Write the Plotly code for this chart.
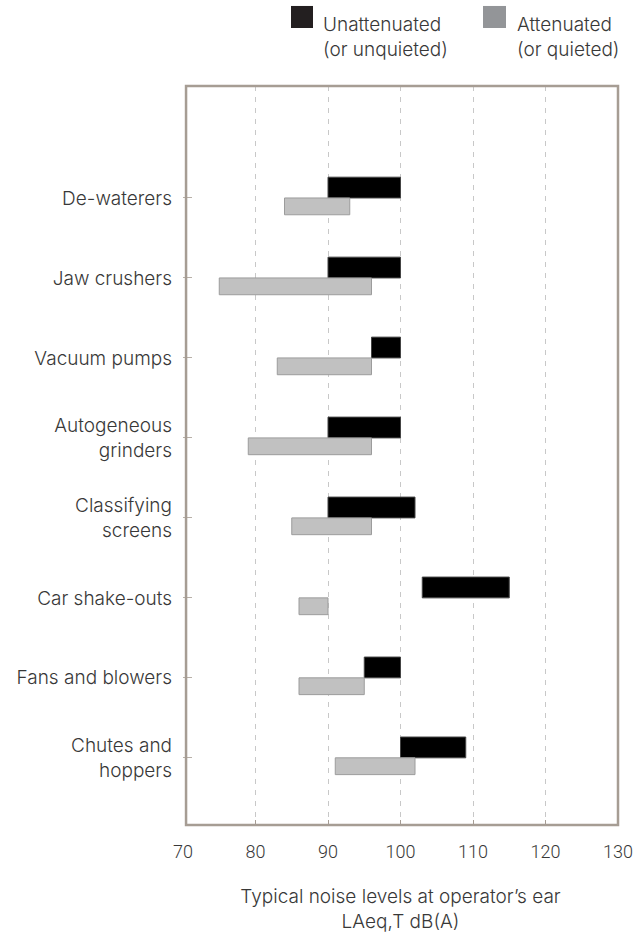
import plotly.graph_objects as go

categories = ["De-waterers", "Jaw crushers", "Vacuum pumps", "Autogeneous grinders",
              "Classifying screens", "Car shake-outs", "Fans and blowers", "Chutes and hoppers"]
tick_labels = ["De-waterers", "Jaw crushers", "Vacuum pumps", "Autogeneous<br>grinders",
               "Classifying<br>screens", "Car shake-outs", "Fans and blowers", "Chutes and<br>hoppers"]

unatt_low = [90, 90, 96, 90, 90, 103, 95, 100]
unatt_high = [100, 100, 100, 100, 102, 115, 100, 109]
att_low = [84, 75, 83, 79, 85, 86, 86, 91]
att_high = [93, 96, 96, 96, 96, 90, 95, 102]

x_ticks = [70, 80, 90, 100, 110, 120, 130]

FONT = "Inter"
FS = 19
TXT = "#383838"
FRAME = "#a69d94"

fig = go.Figure()
fig.add_trace(go.Bar(
    y=categories, x=[h - l for l, h in zip(unatt_low, unatt_high)], base=unatt_low,
    orientation="h", width=0.26, offset=-0.26, name="Unattenuated (or unquieted)",
    marker=dict(color="#000000", line=dict(color="#444444", width=1)), showlegend=False))
fig.add_trace(go.Bar(
    y=categories, x=[h - l for l, h in zip(att_low, att_high)], base=att_low,
    orientation="h", width=0.21, offset=0.0, name="Attenuated (or quieted)",
    marker=dict(color="#c1c1c1", line=dict(color="#9c9c9c", width=1)), showlegend=False))

# frame
fig.add_shape(type="rect", xref="paper", yref="paper", x0=0.007, x1=1.0, y0=0, y1=1,
              line=dict(color=FRAME, width=2.5), layer="above")

# manual legend
fig.add_shape(type="rect", xref="paper", yref="paper", x0=0.2483, x1=0.2989, y0=1.0785, y1=1.1083,
              fillcolor="#231f20", line=dict(width=0))
fig.add_shape(type="rect", xref="paper", yref="paper", x0=0.6897, x1=0.7425, y0=1.0785, y1=1.1083,
              fillcolor="#939598", line=dict(width=0))
fig.add_annotation(xref="paper", yref="paper", x=0.3172, y=1.1015, xanchor="left", yanchor="top",
                   align="left", showarrow=False, text="Unattenuated<br>(or unquieted)",
                   font=dict(family=FONT, size=FS, color=TXT, weight=300))
fig.add_annotation(xref="paper", yref="paper", x=0.7632, y=1.1015, xanchor="left", yanchor="top",
                   align="left", showarrow=False, text="Attenuated<br>(or quieted)",
                   font=dict(family=FONT, size=FS, color=TXT, weight=300))

fig.update_layout(
    width=633, height=933, barmode="overlay",
    margin=dict(l=183, r=15, t=86, b=108),
    paper_bgcolor="white", plot_bgcolor="white",
    font=dict(family=FONT, size=FS, color=TXT, weight=300),
    xaxis=dict(range=[70, 130], tickvals=x_ticks, showgrid=True, gridcolor="#c8c8c8",
               griddash="5px,6px", gridwidth=1, zeroline=False, showline=False,
               automargin=False,
               ticks="inside", ticklen=5, tickcolor=FRAME, ticklabelstandoff=14,
               tickfont=dict(family="Roboto", size=18),
               title=dict(text="Typical noise levels at operator’s ear<br>LAeq,T dB(A)",
                          font=dict(size=FS), standoff=34)),
    yaxis=dict(type="category", categoryorder="array", categoryarray=categories,
               tickvals=categories, ticktext=tick_labels, automargin=False,
               range=[7.84, -1.40], showgrid=False, zeroline=False, showline=False,
               ticks="inside", ticklen=9, tickcolor="#b8b0a8", ticklabelstandoff=10),
)

fig.write_html("out.html", config={"displayModeBar": False},
               post_script="document.body.style.margin='0';")
